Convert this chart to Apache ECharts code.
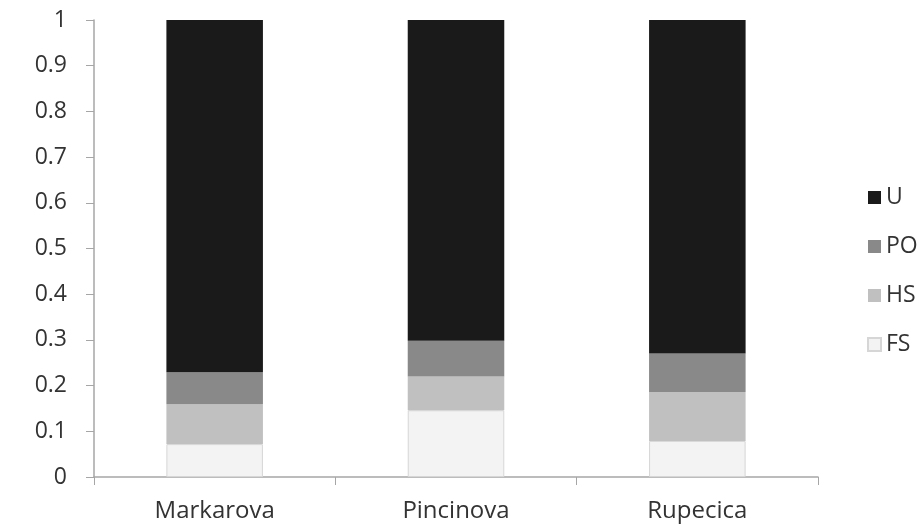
<!DOCTYPE html>
<html>
<head>
<meta charset="utf-8">
<script src="https://cdn.jsdelivr.net/npm/echarts@6/dist/echarts.min.js"></script>
<style>
  html, body { margin: 0; padding: 0; background: #fff; }
  #chart { width: 920px; height: 525px; }
</style>
</head>
<body>
<div id="chart"></div>
<script>
// sites along the x axis
const sites = ["Markarova", "Pincinova", "Rupecica"];

// proportions per class
const fsValues = [0.072, 0.146, 0.079];
const hsValues = [0.087, 0.074, 0.107];
const poValues = [0.070, 0.078, 0.084];
const uValues = [0.771, 0.702, 0.730];

const legendOrder = ["U", "PO", "HS", "FS"];

const font = "'Open Sans', 'Liberation Sans', sans-serif";

function bar(name, data, color, border) {
  return {
    name: name,
    type: "bar",
    stack: "total",
    barWidth: "40%",
    data: data,
    itemStyle: {
      color: color,
      borderColor: border || color,
      borderWidth: border ? 1 : 0,
    },
  };
}

let myChart = echarts.init(document.getElementById("chart"));
myChart.setOption({
  animation: false,
  grid: {
    left: 94,
    right: 102,
    top: 20,
    bottom: 48,
  },
  legend: {
    orient: "vertical",
    left: 862,
    top: 181,
    itemWidth: 13,
    itemHeight: 13,
    itemGap: 26,
    icon: "rect",
    data: legendOrder,
    textStyle: {
      color: "#333",
      fontSize: 23,
      fontFamily: font,
      padding: [0, 0, 0, 0],
    },
  },
  xAxis: {
    type: "category",
    data: sites,
    axisLine: { lineStyle: { color: "#a6a6a6", width: 1.5 } },
    axisTick: { show: true, length: 8, lineStyle: { color: "#a6a6a6" } },
    axisLabel: {
      color: "#333",
      fontSize: 24,
      fontFamily: font,
      margin: 22,
    },
  },
  yAxis: {
    type: "value",
    min: 0,
    max: 1,
    interval: 0.1,
    splitLine: { show: false },
    axisLine: { show: true, lineStyle: { color: "#a6a6a6", width: 1.5 } },
    axisTick: { show: true, length: 8, lineStyle: { color: "#a6a6a6" } },
    axisLabel: {
      color: "#333",
      fontSize: 23,
      fontFamily: font,
      margin: 27,
      formatter: (v) => String(Math.round(v * 10) / 10),
    },
  },
  series: [
    bar("FS", fsValues, "#f3f3f3", "#d6d6d6"),
    bar("HS", hsValues, "#c0c0c0"),
    bar("PO", poValues, "#898989"),
    bar("U", uValues, "#1a1a1a"),
  ],
});
</script>
</body>
</html>
